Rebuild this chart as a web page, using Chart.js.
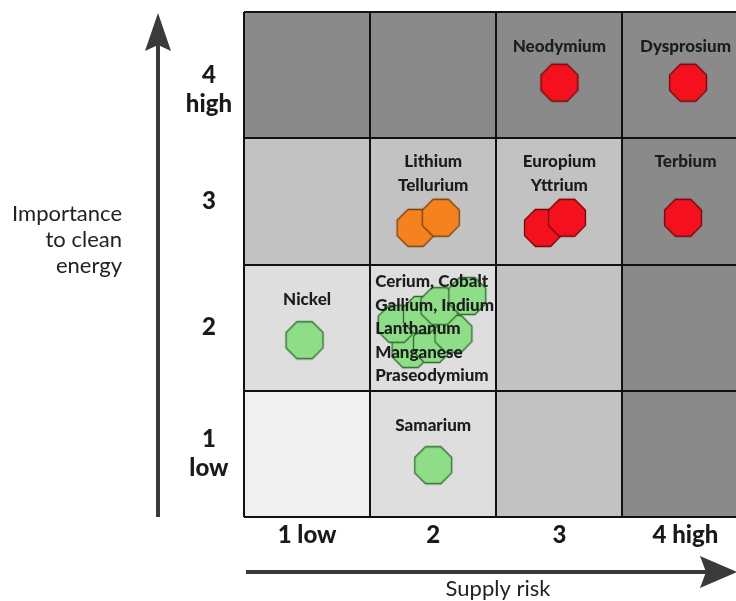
<!DOCTYPE html>
<html>
<head>
<meta charset="utf-8">
<script src="https://cdn.jsdelivr.net/npm/chart.js@4.4.0/dist/chart.umd.min.js"></script>
<style>
  html, body { margin: 0; padding: 0; background: #fff; }
</style>
</head>
<body>
<canvas id="matrix" width="736" height="601"></canvas>
<script>
// criticality matrix: supply risk vs importance to clean energy

const riskTicks = ['1 low', '2', '3', '4 high'];
const importanceTicks = [['1', 'low'], ['2'], ['3'], ['', '4', 'high']];

// shade level of every cell, rows from importance 4 down to 1
const cellShade = [
    [4, 4, 4, 4],
    [3, 3, 3, 4],
    [2, 2, 3, 4],
    [1, 2, 3, 4],
];

const elements = ['Neodymium', 'Dysprosium', 'Lithium', 'Tellurium', 'Europium', 'Yttrium', 'Terbium',
    'Nickel', 'Samarium', 'Manganese', 'Praseodymium', 'Lanthanum', 'Cerium', 'Gallium', 'Indium', 'Cobalt'];
const supplyRisk = [3.00, 4.02, 1.86, 2.06, 2.87, 3.06, 3.98, 0.98, 2.00, 1.82, 1.99, 2.16, 1.71, 1.91, 2.05, 2.27];
const importance = [3.94, 3.94, 2.79, 2.87, 2.79, 2.87, 2.87, 1.90, 0.91, 1.83, 1.87, 1.95, 2.03, 2.10, 2.17, 2.25];
const status = ['critical', 'critical', 'near', 'near', 'critical', 'critical', 'critical',
    'not', 'not', 'not', 'not', 'not', 'not', 'not', 'not', 'not'];

// names written in the cells
const labelRisk = [3, 4, 2, 3, 4, 1, 2, 2];
const labelImportance = [4, 4, 3, 3, 3, 2, 2, 1];
const labelLines = [
    ['Neodymium'],
    ['Dysprosium'],
    ['Lithium', 'Tellurium'],
    ['Europium', 'Yttrium'],
    ['Terbium'],
    ['Nickel'],
    ['Cerium, Cobalt', 'Gallium, Indium', 'Lanthanum', 'Manganese', 'Praseodymium'],
    ['Samarium'],
];

const shadeColours = { 1: '#f0f0f0', 2: '#dedede', 3: '#c2c2c2', 4: '#8a8a8a' };

function octagon(fill, stroke) {
    const size = 44;
    const c = document.createElement('canvas');
    c.width = size;
    c.height = size;
    const g = c.getContext('2d');
    const r = 20;
    g.beginPath();
    for (let k = 0; k < 8; k++) {
        const a = Math.PI / 8 + k * Math.PI / 4;
        const px = size / 2 + r * Math.cos(a);
        const py = size / 2 + r * Math.sin(a);
        if (k === 0) g.moveTo(px, py); else g.lineTo(px, py);
    }
    g.closePath();
    g.fillStyle = fill;
    g.fill();
    g.lineWidth = 1.3;
    g.strokeStyle = stroke;
    g.stroke();
    return c;
}

const markers = {
    critical: octagon('#f5101e', '#6e0a0a'),
    near: octagon('#f5821f', '#7a4010'),
    not: octagon('#8ede88', '#2f6a2f'),
};

const cellData = [];
const cellColours = [];
cellShade.forEach((row, r) => {
    row.forEach((level, c) => {
        cellData.push({ x: c + 1, y: [4 - r - 0.5, 4 - r + 0.5] });
        cellColours.push(shadeColours[level]);
    });
});

const decor = {
    id: 'decor',
    afterDraw(chart) {
        const { ctx, chartArea: area, scales: { x, y } } = chart;
        ctx.save();

        // element names; short labels in one row start on the same line
        const rowLines = {};
        labelLines.forEach((lines, i) => {
            if (lines.length <= 2) {
                rowLines[labelImportance[i]] = Math.max(rowLines[labelImportance[i]] || 1, lines.length);
            }
        });
        ctx.fillStyle = '#1c1c1c';
        ctx.font = '900 17px Lato';
        ctx.textBaseline = 'middle';
        labelLines.forEach((lines, i) => {
            const top = y.getPixelForValue(labelImportance[i] + 0.5);
            const bottom = y.getPixelForValue(labelImportance[i] - 0.5);
            if (lines.length > 2) {
                ctx.textAlign = 'left';
                const left = x.getPixelForValue(labelRisk[i] - 0.5) + 5;
                const first = (top + bottom) / 2 + 1 - (lines.length - 1) * 23.5 / 2;
                lines.forEach((t, k) => ctx.fillText(t, left, first + k * 23.5));
            } else {
                ctx.textAlign = 'center';
                const cx = x.getPixelForValue(labelRisk[i]);
                const first = top + 35 - (rowLines[labelImportance[i]] - 1) * 12;
                lines.forEach((t, k) => ctx.fillText(t, cx, first + k * 24));
            }
        });

        // axis arrows
        ctx.fillStyle = '#3a3a3a';
        const ax = area.left - 86;
        const tipY = area.top + 1;
        ctx.fillRect(ax - 2, tipY + 30, 4, area.bottom - tipY - 30);
        ctx.beginPath();
        ctx.moveTo(ax, tipY);
        ctx.lineTo(ax + 13, tipY + 38);
        ctx.lineTo(ax, tipY + 32);
        ctx.lineTo(ax - 13, tipY + 38);
        ctx.closePath();
        ctx.fill();

        const ay = area.bottom + 55;
        const tipX = area.right + 1;
        ctx.fillRect(area.left + 2, ay - 2, tipX - area.left - 32, 4);
        ctx.beginPath();
        ctx.moveTo(tipX, ay);
        ctx.lineTo(tipX - 37, ay + 16);
        ctx.lineTo(tipX - 31, ay);
        ctx.lineTo(tipX - 37, ay - 16);
        ctx.closePath();
        ctx.fill();

        // axis titles
        ctx.fillStyle = '#222';
        ctx.font = '22px Lato';
        ctx.textAlign = 'right';
        ['Importance', 'to clean', 'energy'].forEach((t, k) => ctx.fillText(t, 122, 214 + k * 26));
        ctx.textAlign = 'center';
        ctx.fillText('Supply risk', 498, 589);

        ctx.restore();
    }
};

const tickFont = { family: 'Lato', size: 24, weight: '900' };

// keep the plot box fixed, whatever the tick labels need
function noEdgePadding(s) {
    s.paddingTop = 0;
    s.paddingBottom = 0;
    s.paddingLeft = 0;
    s.paddingRight = 0;
}

new Chart(document.getElementById('matrix'), {
    type: 'scatter',
    data: {
        datasets: [{
            type: 'scatter',
            data: elements.map((name, i) => ({ x: supplyRisk[i], y: importance[i] })),
            pointStyle: status.map(s => markers[s]),
            pointRadius: 18,
            order: 0
        }, {
            type: 'bar',
            data: cellData,
            backgroundColor: cellColours,
            borderWidth: 0,
            barPercentage: 1,
            categoryPercentage: 1,
            order: 1
        }]
    },
    options: {
        responsive: false,
        animation: false,
        events: [],
        layout: { autoPadding: false, padding: { left: 144, top: 12, right: 0, bottom: 0 } },
        plugins: {
            legend: { display: false },
            tooltip: { enabled: false }
        },
        scales: {
            x: {
                type: 'linear',
                min: 0.5,
                max: 4.4,
                offset: false,
                afterBuildTicks: s => { s.ticks = riskTicks.map((t, i) => ({ value: i + 1 })); },
                afterFit: s => { s.height = 84; noEdgePadding(s); },
                grid: { offset: true, color: '#111', lineWidth: 2, drawTicks: false, z: 1 },
                border: { display: false },
                ticks: {
                    color: '#1a1a1a',
                    font: tickFont,
                    padding: 4,
                    maxRotation: 0,
                    autoSkip: false,
                    callback: (v, i) => riskTicks[i]
                }
            },
            y: {
                type: 'linear',
                min: 0.5,
                max: 4.5,
                offset: false,
                afterBuildTicks: s => { s.ticks = importanceTicks.map((t, i) => ({ value: i + 1 })); },
                afterFit: s => { s.width = 100; noEdgePadding(s); },
                grid: { offset: true, color: '#111', lineWidth: 2, drawTicks: false, z: 1 },
                border: { display: false },
                ticks: {
                    color: '#1a1a1a',
                    font: tickFont,
                    padding: 12,
                    crossAlign: 'center',
                    autoSkip: false,
                    callback: (v, i) => importanceTicks[i]
                }
            }
        }
    },
    plugins: [decor]
});
</script>
</body>
</html>
